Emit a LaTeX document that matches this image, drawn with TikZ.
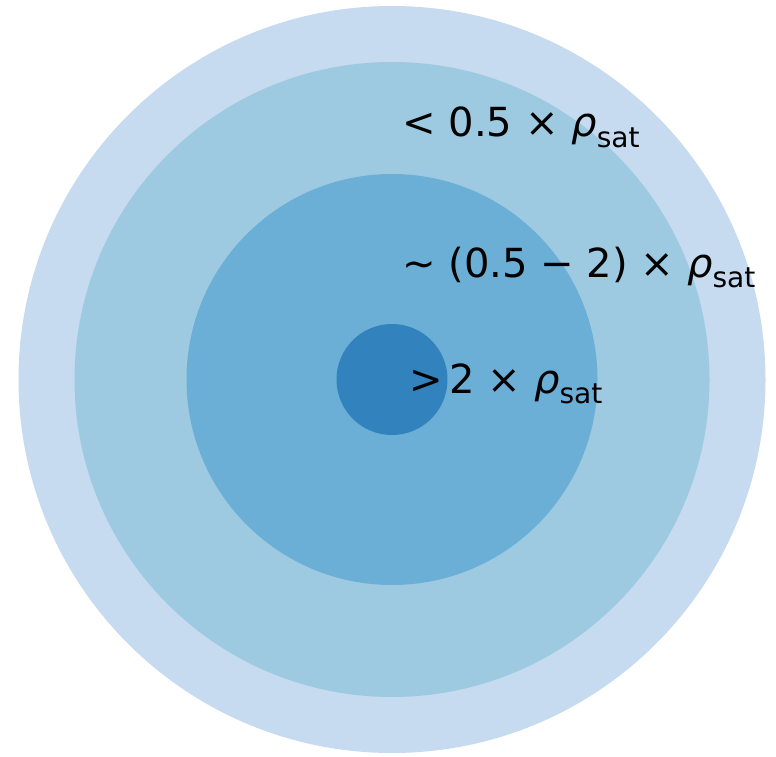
\documentclass[tikz,border=0pt]{standalone}
\usepackage{fontspec}
\setmainfont{DejaVu Sans}
\definecolor{shellouter}{HTML}{C6DBEF}
\definecolor{shellmid}{HTML}{9ECAE1}
\definecolor{shellinner}{HTML}{6BAED6}
\definecolor{shellcore}{HTML}{3182BD}
\newcommand{\rhosat}{{\itshape ρ}\raisebox{-0.25em}{\fontsize{16}{16}\selectfont sat}}
\tikzset{densitylabel/.style={anchor=base west, inner sep=0pt, font=\fontsize{22.8}{26}\selectfont}}

\begin{document}
\begin{tikzpicture}[x=0.02cm, y=-0.02cm]

  % canvas
  \useasboundingbox (0,0) rectangle (776,756);

  % density shells, outside in
  \fill[shellouter] (392,379.5) circle (373.5);
  \fill[shellmid] (392,379.5) circle (317.5);
  \fill[shellinner] (392,379.5) circle (205.5);
  \fill[shellcore] (392,379.5) circle (55.5);

  % labels
  \node[densitylabel] (low) at (402,137) {< 0.5 × \rhosat};
  \node[densitylabel] (mid) at (402,277) {∼ (0.5 − 2) × \rhosat};
  \node[densitylabel] (high) at (409,393) {>\,2 × \rhosat};

\end{tikzpicture}
\end{document}
